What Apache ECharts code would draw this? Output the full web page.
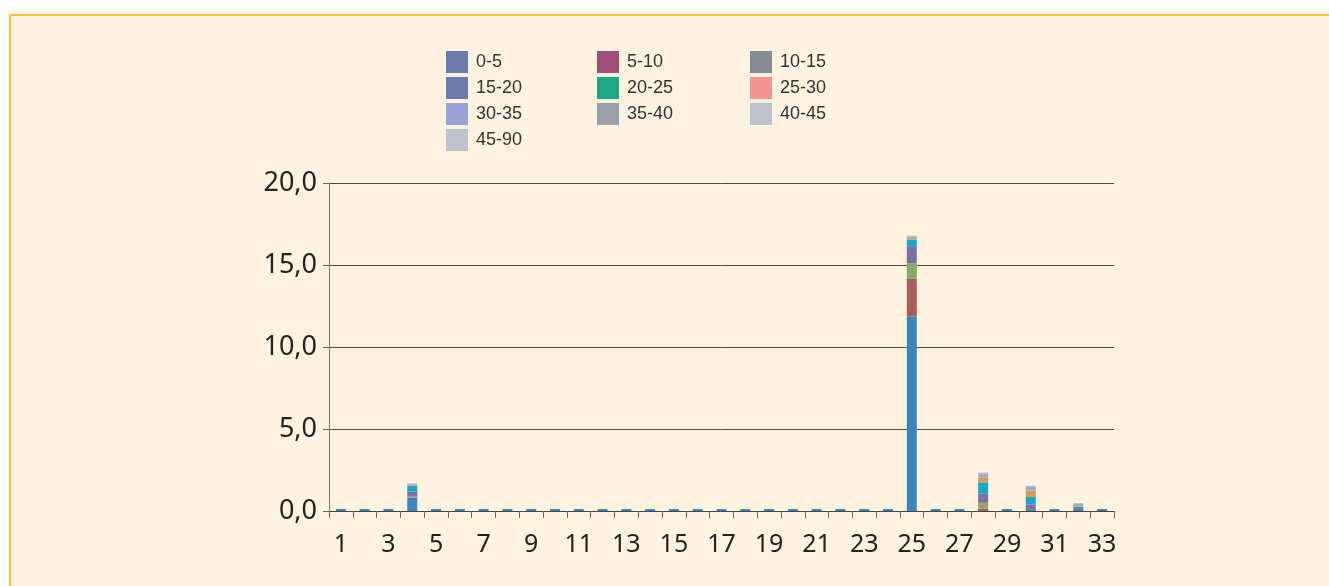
<!DOCTYPE html>
<html>
<head>
<meta charset="utf-8">
<script src="https://cdn.jsdelivr.net/npm/echarts@6/dist/echarts.min.js"></script>
<style>
  html, body { margin: 0; padding: 0; background: #fff; }
  .frame {
    position: absolute; left: 9px; top: 14px; width: 1340px; height: 600px;
    background: #fdf3df; border-left: 2px solid #fbc33c; border-top: 2px solid #fbc33c;
    box-sizing: border-box;
  }
  #chart { position: absolute; left: 0; top: 0; width: 1329px; height: 586px; }
</style>
</head>
<body>
<div class="frame"></div>
<div id="chart"></div>
<script>
// categories 1..33
const categories = ["1","2","3","4","5","6","7","8","9","10","11","12","13","14","15","16","17",
  "18","19","20","21","22","23","24","25","26","27","28","29","30","31","32","33"];

const yTicks = [0, 5, 10, 15, 20];

// one array per class, 33 values each (only categories 4, 25, 28, 30, 32 are non-zero)
const s0_5   = [0,0,0,0.80,0,0,0,0,0,0,0,0,0,0,0,0,0,0,0,0,0,0,0,0,11.85,0,0,0,   0,0.05,0,0.02,0];
const s5_10  = [0,0,0,0.03,0,0,0,0,0,0,0,0,0,0,0,0,0,0,0,0,0,0,0,0,2.30, 0,0,0.15,0,0,   0,0,   0];
const s10_15 = [0,0,0,0.05,0,0,0,0,0,0,0,0,0,0,0,0,0,0,0,0,0,0,0,0,0.95, 0,0,0.35,0,0.05,0,0,   0];
const s15_20 = [0,0,0,0.30,0,0,0,0,0,0,0,0,0,0,0,0,0,0,0,0,0,0,0,0,1.00, 0,0,0.55,0,0.30,0,0.10,0];
const s20_25 = [0,0,0,0.35,0,0,0,0,0,0,0,0,0,0,0,0,0,0,0,0,0,0,0,0,0.45, 0,0,0.70,0,0.45,0,0.15,0];
const s25_30 = [0,0,0,0.05,0,0,0,0,0,0,0,0,0,0,0,0,0,0,0,0,0,0,0,0,0.10, 0,0,0.30,0,0.40,0,0.10,0];
const s30_35 = [0,0,0,0.05,0,0,0,0,0,0,0,0,0,0,0,0,0,0,0,0,0,0,0,0,0.05, 0,0,0.20,0,0.25,0,0.10,0];
const s35_40 = [0,0,0,0.03,0,0,0,0,0,0,0,0,0,0,0,0,0,0,0,0,0,0,0,0,0.05, 0,0,0.05,0,0.03,0,0,   0];
const s40_45 = [0,0,0,0.02,0,0,0,0,0,0,0,0,0,0,0,0,0,0,0,0,0,0,0,0,0.03, 0,0,0.03,0,0,   0,0,   0];
const s45_90 = [0,0,0,0.02,0,0,0,0,0,0,0,0,0,0,0,0,0,0,0,0,0,0,0,0,0.02, 0,0,0.02,0,0,   0,0,   0];

const names = ["0-5","5-10","10-15","15-20","20-25","25-30","30-35","35-40","40-45","45-90"];
const values = [s0_5, s5_10, s10_15, s15_20, s20_25, s25_30, s30_35, s35_40, s40_45, s45_90];
// colour of the bar segments
const barColors = ["#3b86b9","#a85c5c","#8aa86c","#7a70a6","#1ca7c9","#d9985c","#98abd6","#a2a8b0","#b8bcc6","#c4c6cc"];
// colour of the legend swatches
const legendColors = ["#6b7aad","#a05078","#858c96","#6b7aad","#1ea884","#f0958f","#98a4d6","#98a0a8","#bec2cc","#bec2cc"];

const font = "'Noto Sans', sans-serif";

function legendCol(idx, left) {
  return {
    orient: "vertical", left: left, top: 46, itemWidth: 22, itemHeight: 22, itemGap: 4,
    icon: "rect", selectedMode: false,
    textStyle: { fontFamily: "'Liberation Sans', sans-serif", fontSize: 18, color: "#333", padding: [0, 0, 0, 3] },
    data: idx.map(i => ({ name: names[i], itemStyle: { color: legendColors[i] } }))
  };
}

const chart = echarts.init(document.getElementById("chart"));
chart.setOption({
  animation: false,
  legend: [legendCol([0, 3, 6, 9], 441), legendCol([1, 4, 7], 592), legendCol([2, 5, 8], 745)],
  grid: { left: 329, right: 215, top: 183, bottom: 75 },
  xAxis: {
    type: "category", data: categories,
    axisLine: { lineStyle: { color: "#444", width: 1 } },
    axisTick: { show: true, length: 7, interval: 0, lineStyle: { color: "#666" } },
    axisLabel: { interval: 1, margin: 21, fontSize: 25, fontFamily: font, color: "#222" }
  },
  yAxis: {
    type: "value", min: 0, max: 20, interval: 5,
    axisLine: { show: true, lineStyle: { color: "#777" } },
    axisTick: { show: true, length: 6, lineStyle: { color: "#666" } },
    axisLabel: { margin: 12, fontSize: 27, fontFamily: font, color: "#222",
      formatter: v => v.toFixed(1).replace(".", ",") },
    splitLine: { lineStyle: { color: "#4a4a4a", width: 1 } }
  },
  series: names.map((n, i) => ({
    name: n, type: "bar", stack: "total", barWidth: 10,
    barMinHeight: i === 0 ? 2 : 0,
    itemStyle: { color: barColors[i] },
    data: values[i]
  }))
});
</script>
</body>
</html>
